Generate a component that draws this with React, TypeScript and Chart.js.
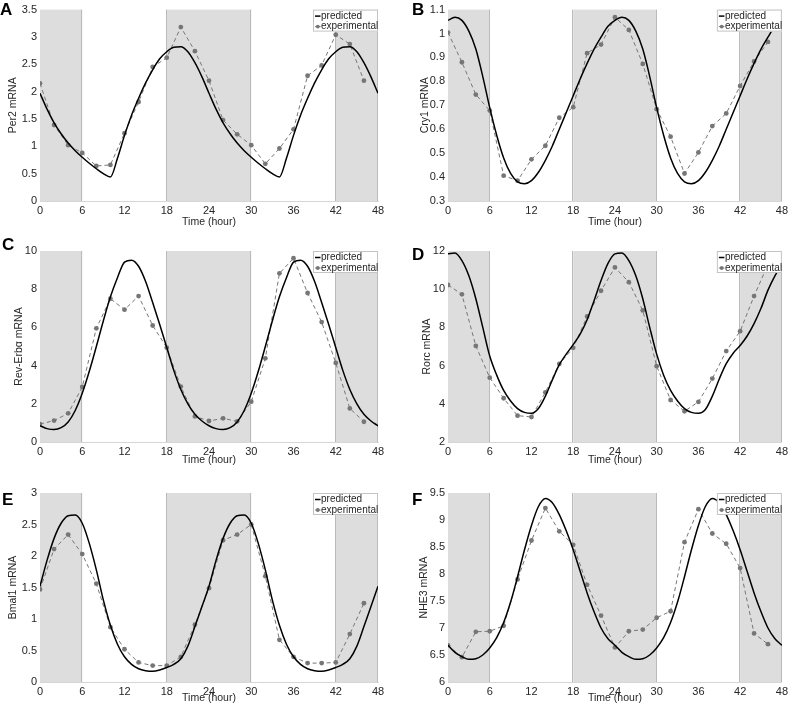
import React, { useEffect, useRef } from "react";
import { Chart, registerables } from "chart.js";

Chart.register(...registerables);

// ---------- data ----------
const predHours = [
  0, 1, 2, 3, 4, 5, 6, 7, 8, 9, 10, 11, 12, 13, 14, 15, 16, 17, 18, 19, 20, 21, 22, 23, 24,
  25, 26, 27, 28, 29, 30, 31, 32, 33, 34, 35, 36, 37, 38, 39, 40, 41, 42, 43, 44, 45, 46, 47, 48,
];
const expHours = [0, 2, 4, 6, 8, 10, 12, 14, 16, 18, 20, 22, 24, 26, 28, 30, 32, 34, 36, 38, 40, 42, 44, 46];
const timeTicks = [0, 6, 12, 18, 24, 30, 36, 42, 48];
const darkStarts = [0, 18, 42];
const darkEnds = [6, 30, 48];

const per2Pred = [
  1.97, 1.68, 1.43, 1.23, 1.06, 0.92, 0.8, 0.69, 0.59, 0.5, 0.44, 0.78, 1.2, 1.57, 1.88, 2.16, 2.4, 2.6, 2.73, 2.81, 2.82, 2.73, 2.53, 2.27,
  1.97, 1.68, 1.43, 1.23, 1.06, 0.92, 0.8, 0.69, 0.59, 0.5, 0.44, 0.78, 1.2, 1.57, 1.88, 2.16, 2.4, 2.6, 2.73, 2.81, 2.82, 2.73, 2.53, 2.27,
  1.97,
];
const per2Exp = [2.15, 1.39, 1.02, 0.88, 0.64, 0.66, 1.24, 1.81, 2.45, 2.62, 3.18, 2.74, 2.2, 1.48, 1.22, 1.02, 0.68, 0.96, 1.31, 2.29, 2.48, 3.04, 2.87, 2.2];
const per2Ticks = [0, 0.5, 1, 1.5, 2, 2.5, 3, 3.5];

const cry1Pred = [
  1.055, 1.068, 1.055, 1.01, 0.935, 0.82, 0.69, 0.575, 0.48, 0.415, 0.38, 0.372, 0.385, 0.42, 0.47, 0.53, 0.6, 0.67, 0.74, 0.81, 0.875, 0.935, 0.985, 1.03,
  1.055, 1.068, 1.055, 1.01, 0.935, 0.82, 0.69, 0.575, 0.48, 0.415, 0.38, 0.372, 0.385, 0.42, 0.47, 0.53, 0.6, 0.67, 0.74, 0.81, 0.875, 0.935, 0.985, 1.03,
  1.055,
];
const cry1Exp = [1.004, 0.88, 0.745, 0.678, 0.406, 0.385, 0.474, 0.531, 0.648, 0.692, 0.918, 0.954, 1.068, 1.015, 0.873, 0.684, 0.569, 0.415, 0.503, 0.613, 0.666, 0.781, 0.883, 0.965];
const cry1Ticks = [0.3, 0.4, 0.5, 0.6, 0.7, 0.8, 0.9, 1, 1.1];

const revErbPred = [
  0.85, 0.7, 0.65, 0.75, 1.05, 1.65, 2.55, 3.7, 5.0, 6.35, 7.6, 8.6, 9.42, 9.52, 9.2, 8.4, 7.3, 6.15, 4.95, 3.75, 2.75, 2.0, 1.45, 1.1,
  0.85, 0.7, 0.65, 0.75, 1.05, 1.65, 2.55, 3.7, 5.0, 6.35, 7.6, 8.6, 9.42, 9.52, 9.2, 8.4, 7.3, 6.15, 4.95, 3.75, 2.75, 2.0, 1.45, 1.1,
  0.85,
];
const revErbExp = [0.94, 1.12, 1.5, 2.88, 5.95, 7.5, 6.93, 7.64, 6.1, 4.94, 2.9, 1.34, 1.1, 1.24, 1.08, 2.11, 4.38, 8.83, 9.62, 7.8, 6.28, 4.14, 1.76, 1.06];
const revErbTicks = [0, 2, 4, 6, 8, 10];

const rorcPred = [
  11.85, 11.9, 11.5, 10.7, 9.5, 8.0, 6.5, 5.5, 4.7, 4.15, 3.75, 3.55, 3.5, 3.75, 4.4, 5.25, 6.05, 6.6, 7.1, 7.65, 8.4, 9.4, 10.45, 11.35,
  11.85, 11.9, 11.5, 10.7, 9.5, 8.0, 6.6, 5.5, 4.7, 4.15, 3.75, 3.55, 3.5, 3.7, 4.4, 5.3, 6.1, 6.65, 7.05, 7.55, 8.2, 9.0, 9.95, 10.7,
  11.3,
];
const rorcExp = [10.22, 9.73, 7.03, 5.37, 4.29, 3.38, 3.31, 4.6, 6.09, 6.93, 8.57, 9.92, 11.14, 10.37, 8.89, 5.97, 4.2, 3.61, 4.1, 5.32, 6.76, 7.8, 9.64, 11.3];
const rorcTicks = [2, 4, 6, 8, 10, 12];

const bmal1Pred = [
  1.52, 1.93, 2.28, 2.52, 2.64, 2.65, 2.52, 2.2, 1.78, 1.3, 0.9, 0.6, 0.4, 0.28, 0.21, 0.18, 0.17, 0.19, 0.23, 0.28, 0.37, 0.57, 0.88, 1.2,
  1.52, 1.93, 2.28, 2.52, 2.64, 2.65, 2.52, 2.2, 1.78, 1.3, 0.9, 0.6, 0.4, 0.28, 0.21, 0.18, 0.17, 0.19, 0.23, 0.28, 0.37, 0.57, 0.88, 1.2,
  1.52,
];
const bmal1Exp = [1.47, 2.11, 2.34, 2.03, 1.56, 0.87, 0.52, 0.31, 0.26, 0.26, 0.4, 0.91, 1.49, 2.25, 2.34, 2.5, 1.68, 0.67, 0.4, 0.3, 0.3, 0.31, 0.76, 1.25];
const bmal1Ticks = [0, 0.5, 1, 1.5, 2, 2.5, 3];

const nhe3Pred = [
  6.68, 6.55, 6.47, 6.42, 6.43, 6.5, 6.63, 6.82, 7.1, 7.48, 7.95, 8.45, 8.9, 9.25, 9.4, 9.32, 9.1, 8.8, 8.45, 8.05, 7.65, 7.3, 7.0, 6.8,
  6.68, 6.55, 6.47, 6.42, 6.43, 6.5, 6.63, 6.82, 7.1, 7.48, 7.95, 8.45, 8.9, 9.25, 9.4, 9.32, 9.1, 8.8, 8.45, 8.05, 7.65, 7.3, 7.0, 6.8,
  6.68,
];
const nhe3Exp = [6.68, 6.46, 6.93, 6.94, 7.04, 7.9, 8.62, 9.22, 8.79, 8.54, 7.8, 7.23, 6.64, 6.94, 6.97, 7.19, 7.31, 8.59, 9.2, 8.75, 8.56, 8.11, 6.9, 6.7];
const nhe3Ticks = [6, 6.5, 7, 7.5, 8, 8.5, 9, 9.5];

const seriesLabels = ["predicted", "experimental"];
const xTitle = "Time (hour)";

// ---------- layout / style ----------
const FONT = '"Liberation Sans", Arial, Helvetica, sans-serif';
const TEXT = "#262626";
const EXP_COLOR = "#767676";

type PanelCfg = {
  letter: string;
  title: string;
  pred: number[];
  exp: number[];
  ticks: number[];
  box: { x: number; y: number; w: number; h: number };
  plot: { l: number; t: number; r: number; b: number };
  xTitleOff: number;
  yTitleX: number;
  letterPos: { x: number; y: number };
};

const panels: PanelCfg[] = [
  { letter: "A", title: "Per2 mRNA", pred: per2Pred, exp: per2Exp, ticks: per2Ticks,
    box: { x: 0, y: 0, w: 395, h: 240 }, plot: { l: 40, t: 9, r: 378, b: 201 }, xTitleOff: 20.7, yTitleX: 13.5, letterPos: { x: 0, y: 15 } },
  { letter: "B", title: "Cry1 mRNA", pred: cry1Pred, exp: cry1Exp, ticks: cry1Ticks,
    box: { x: 395, y: 0, w: 396, h: 240 }, plot: { l: 448, t: 9, r: 786, b: 201 }, xTitleOff: 20.7, yTitleX: 425, letterPos: { x: 412, y: 15 } },
  { letter: "C", title: "Rev-Erbα mRNA", pred: revErbPred, exp: revErbExp, ticks: revErbTicks,
    box: { x: 0, y: 240, w: 395, h: 240 }, plot: { l: 40, t: 251, r: 378, b: 442 }, xTitleOff: 18, yTitleX: 19, letterPos: { x: 2, y: 250 } },
  { letter: "D", title: "Rorc mRNA", pred: rorcPred, exp: rorcExp, ticks: rorcTicks,
    box: { x: 395, y: 240, w: 396, h: 240 }, plot: { l: 448, t: 251, r: 786, b: 442 }, xTitleOff: 18, yTitleX: 426.7, letterPos: { x: 412, y: 260 } },
  { letter: "E", title: "Bmal1 mRNA", pred: bmal1Pred, exp: bmal1Exp, ticks: bmal1Ticks,
    box: { x: 0, y: 480, w: 395, h: 230 }, plot: { l: 40, t: 493, r: 378, b: 682 }, xTitleOff: 15.7, yTitleX: 13.3, letterPos: { x: 2, y: 505 } },
  { letter: "F", title: "NHE3 mRNA", pred: nhe3Pred, exp: nhe3Exp, ticks: nhe3Ticks,
    box: { x: 395, y: 480, w: 396, h: 230 }, plot: { l: 448, t: 493, r: 786, b: 682 }, xTitleOff: 15.7, yTitleX: 424.5, letterPos: { x: 412, y: 505 } },
];

const fmt = (v: number) => String(Math.round(v * 100) / 100);

const shadePlugin = {
  id: "shade",
  beforeDatasetsDraw(chart: any) {
    const { ctx, chartArea } = chart;
    const xs = chart.scales.x;
    ctx.save();
    ctx.fillStyle = "#dddddd";
    for (let i = 0; i < darkStarts.length; i++) {
      const x1 = xs.getPixelForValue(darkStarts[i]);
      const x2 = xs.getPixelForValue(darkEnds[i]);
      ctx.fillRect(x1, chartArea.top, x2 - x1, chartArea.bottom - chartArea.top);
    }
    ctx.strokeStyle = "#bababa";
    ctx.lineWidth = 1;
    for (let i = 0; i < darkStarts.length; i++) {
      for (const v of [darkStarts[i], darkEnds[i]]) {
        if (v === 0) continue;
        const x = Math.round(xs.getPixelForValue(v)) - 0.5;
        ctx.beginPath();
        ctx.moveTo(x, chartArea.top);
        ctx.lineTo(x, chartArea.bottom);
        ctx.stroke();
      }
    }
    ctx.restore();
  },
};

const legendPlugin = {
  id: "innerLegend",
  afterDraw(chart: any) {
    const { ctx, chartArea } = chart;
    const w = 65;
    const h = 22;
    const x0 = chartArea.right - w;
    const y0 = chartArea.top;
    ctx.save();
    ctx.fillStyle = "#ffffff";
    ctx.fillRect(x0, y0, w, h);
    ctx.strokeStyle = "#c4c4c4";
    ctx.lineWidth = 1;
    ctx.strokeRect(x0 + 0.5, y0 + 0.5, w - 1, h - 1);
    // predicted
    ctx.strokeStyle = "#000";
    ctx.lineWidth = 1.5;
    ctx.beginPath();
    ctx.moveTo(x0 + 2, y0 + 6.5);
    ctx.lineTo(x0 + 7.5, y0 + 6.5);
    ctx.stroke();
    // experimental
    ctx.strokeStyle = EXP_COLOR;
    ctx.lineWidth = 1;
    ctx.beginPath();
    ctx.moveTo(x0 + 2, y0 + 17);
    ctx.lineTo(x0 + 7.5, y0 + 17);
    ctx.stroke();
    ctx.fillStyle = EXP_COLOR;
    ctx.beginPath();
    ctx.arc(x0 + 4.8, y0 + 17, 1.9, 0, Math.PI * 2);
    ctx.fill();
    ctx.fillStyle = TEXT;
    ctx.font = `10px ${FONT}`;
    ctx.textBaseline = "middle";
    ctx.textAlign = "left";
    ctx.fillText(seriesLabels[0], x0 + 8, y0 + 6.5);
    ctx.fillText(seriesLabels[1], x0 + 8, y0 + 17);
    ctx.restore();
  },
};

function Panel({ cfg }: { cfg: PanelCfg }) {
  const ref = useRef<HTMLCanvasElement>(null);
  useEffect(() => {
    if (!ref.current) return;
    const { box, plot } = cfg;
    const xAxisH = Math.min(30, box.y + box.h - plot.b);
    const padTop = plot.t - box.y;
    const padRight = box.x + box.w - plot.r;
    const padBottom = box.y + box.h - plot.b - xAxisH;
    const yAxisW = plot.l - box.x;
    const titleFont = { family: FONT, size: 10.5 };
    const halfLH = (10.5 * 1.2) / 2;
    const chart = new Chart(ref.current, {
      type: "line",
      data: {
        datasets: [
          {
            label: seriesLabels[0],
            data: predHours.map((h, i) => ({ x: h, y: cfg.pred[i] })),
            borderColor: "#000000",
            borderWidth: 1.5,
            pointRadius: 0,
            cubicInterpolationMode: "monotone",
            fill: false,
          },
          {
            label: seriesLabels[1],
            data: expHours.map((h, i) => ({ x: h, y: cfg.exp[i] })),
            borderColor: EXP_COLOR,
            borderWidth: 1,
            borderDash: [4, 3],
            pointRadius: 2.4,
            pointBackgroundColor: EXP_COLOR,
            pointBorderWidth: 0,
            tension: 0,
            fill: false,
          },
        ],
      },
      options: {
        responsive: false,
        animation: false,
        devicePixelRatio: 1,
        layout: { padding: { left: 0, top: padTop, right: padRight, bottom: padBottom } },
        plugins: { legend: { display: false }, tooltip: { enabled: false } },
        scales: {
          x: {
            type: "linear",
            min: 0,
            max: 48,
            afterBuildTicks: (s: any) => {
              s.ticks = timeTicks.map((v) => ({ value: v }));
            },
            afterFit: (s: any) => {
              s.height = xAxisH;
            },
            grid: { display: true, drawOnChartArea: false, drawTicks: false, tickLength: 0 },
            border: { display: true, color: "#d6d6d6" },
            ticks: { padding: 3, color: TEXT, font: { family: FONT, size: 11 }, maxRotation: 0, autoSkip: false, callback: (v: any) => fmt(Number(v)) },
            title: {
              display: true,
              text: xTitle,
              color: TEXT,
              font: titleFont,
              padding: { top: 0, bottom: xAxisH - cfg.xTitleOff - halfLH },
            },
          },
          y: {
            type: "linear",
            min: cfg.ticks[0],
            max: cfg.ticks[cfg.ticks.length - 1],
            afterBuildTicks: (s: any) => {
              s.ticks = cfg.ticks.map((v) => ({ value: v }));
            },
            afterFit: (s: any) => {
              s.width = yAxisW;
            },
            grid: { display: false, drawTicks: false, tickLength: 0 },
            border: { display: false },
            ticks: { padding: 3, color: TEXT, font: { family: FONT, size: 11 }, autoSkip: false, callback: (v: any) => fmt(Number(v)) },
            title: {
              display: true,
              text: cfg.title,
              color: TEXT,
              font: titleFont,
              padding: { top: cfg.yTitleX - box.x - halfLH, bottom: 0 },
            },
          },
        },
      } as any,
      plugins: [shadePlugin, legendPlugin],
    });
    return () => chart.destroy();
  }, [cfg]);
  return (
    <canvas
      ref={ref}
      width={cfg.box.w}
      height={cfg.box.h}
      style={{ position: "absolute", left: cfg.box.x, top: cfg.box.y, width: cfg.box.w, height: cfg.box.h }}
    />
  );
}

export default function App() {
  return (
    <div style={{ position: "absolute", left: 0, top: 0, width: 791, height: 710, overflow: "hidden", background: "#fff" }}>
      {panels.map((p) => (
        <Panel key={p.letter} cfg={p} />
      ))}
      {panels.map((p) => (
        <div
          key={"L" + p.letter}
          style={{
            position: "absolute",
            left: p.letterPos.x,
            top: p.letterPos.y - 14.4,
            fontFamily: FONT,
            fontWeight: "bold",
            fontSize: 17,
            lineHeight: "17px",
            color: "#000",
          }}
        >
          {p.letter}
        </div>
      ))}
    </div>
  );
}
